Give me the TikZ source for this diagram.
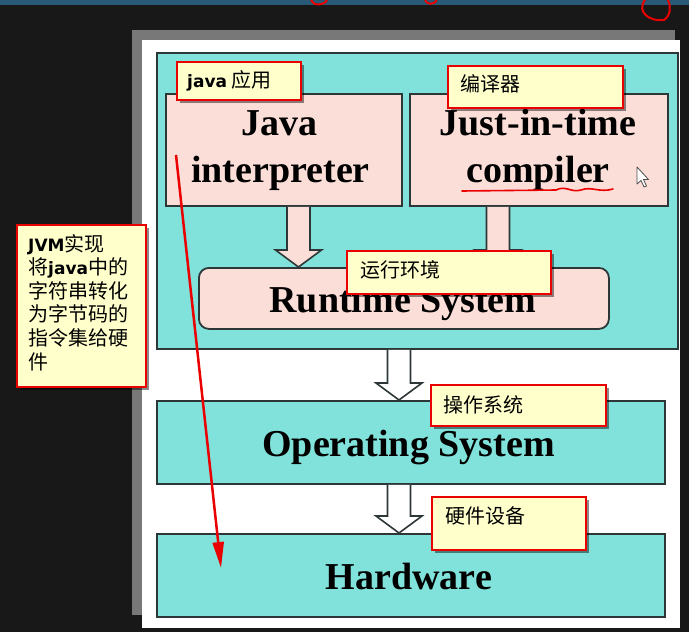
\documentclass[tikz,border=0pt]{standalone}
\usepackage{fontspec}
\setmainfont{Liberation Serif}
\newfontfamily\cjk{Noto Sans CJK SC}
\newfontfamily\latb{DejaVu Sans}
\usetikzlibrary{shadows,arrows.meta,calc}
\definecolor{tealbox}{RGB}{128,226,218}
\definecolor{pinkbox}{RGB}{252,222,216}
\definecolor{notefill}{RGB}{255,255,204}
\definecolor{edgecol}{RGB}{45,55,55}
\definecolor{bgcol}{RGB}{24,24,24}
\definecolor{framecol}{RGB}{120,120,120}
\definecolor{topblue}{RGB}{40,90,120}
\definecolor{redline}{RGB}{235,0,0}
\newcommand\blockarr[4]{%
  \draw[blockedge, fill=#4]
    ({#3-11.5},0 |- #1.south) --
    ([yshift=17pt]{#3-11.5},0 |- #2.north) --
    ([yshift=17pt]{#3-23},0 |- #2.north) --
    (#3,0 |- #2.north) --
    ([yshift=17pt]{#3+23},0 |- #2.north) --
    ([yshift=17pt]{#3+11.5},0 |- #2.north) --
    ({#3+11.5},0 |- #1.south);}
\begin{document}
\begin{tikzpicture}[x=1pt,y=-1pt,
  box/.style={draw=edgecol,line width=1.8pt,anchor=north west,inner sep=0pt},
  blockedge/.style={draw=edgecol,line width=1.6pt,line join=miter},
  title/.style={font=\fontsize{38}{45}\selectfont\bfseries,text=black,anchor=base,inner sep=0pt},
  note/.style={draw=redline,line width=2pt,fill=notefill,anchor=north west,inner sep=0pt,
    drop shadow={shadow xshift=2.5pt,shadow yshift=-2.5pt,opacity=0.45,fill=black}},
  notetext/.style={font=\cjk\fontsize{20}{23.6}\selectfont,anchor=base west,inner sep=0pt,text=black},
  ]
\useasboundingbox (0,0) rectangle (689,632);
% background
\fill[bgcol] (0,0) rectangle (689,632);
\fill[topblue] (0,0) rectangle (689,5);
\draw[redline,line width=2pt] (645,0) .. controls (636,12) and (650,22) .. (664,20) .. controls (671,15) and (671,6) .. (668,0);
\draw[redline,line width=2pt] (311,0) .. controls (313,6) and (324,6) .. (327,0);
\draw[redline,line width=2pt] (425,0) .. controls (427,5) and (434,5) .. (437,0);
\fill[framecol] (132,30) rectangle (675,615);
\fill[white] (142,40) rectangle (680,628);

% main boxes
\node[box,fill=tealbox,minimum width=521pt,minimum height=296pt] (jvm) at (156,52) {};
\node[box,fill=pinkbox,minimum width=236pt,minimum height=112pt] (interp) at (165,93) {};
\node[box,fill=pinkbox,minimum width=258pt,minimum height=112pt] (jit) at (409,93) {};
\node[box,fill=pinkbox,rounded corners=10pt,minimum width=410pt,minimum height=61pt] (rts) at (198,267) {};
\node[box,fill=tealbox,minimum width=508pt,minimum height=83pt] (os) at (156,400) {};
\node[box,fill=tealbox,minimum width=508pt,minimum height=83pt] (hw) at (156,533) {};

% block arrows
\blockarr{interp}{rts}{298.5}{pinkbox}
\blockarr{jit}{rts}{498}{pinkbox}
\blockarr{jvm}{os}{399}{white}
\blockarr{os}{hw}{399}{white}

% box texts
\node[title] (tjava) at (279,135) {Java};
\node[title] (tinterp) at (280.5,182) {interpreter};
\node[title] (tjust) at (538,135) {Just-in-time};
\node[title] (tcomp) at (538,182) {compiler};
\node[title] (trts) at (403,312) {Runtime System};
\node[title] (tos) at (408.5,456) {Operating System};
\node[title] (thw) at (409,589) {Hardware};

% red underline and cursor
\draw[redline,line width=1.6pt,line cap=round] (462,191) -- (556,190) .. controls (566,185) and (571,193) .. (581,190) .. controls (591,186) and (600,193) .. (613,189);
\draw[gray!60!black,fill=white,line width=0.8pt,line join=round] (637,167) -- (637,184) -- (641,180.5) -- (644,187) -- (646.5,186) -- (643.5,179.5) -- (648.5,179.5) -- cycle;

% callouts
\node[note,minimum width=124pt,minimum height=38pt] (c1) at (176,61) {};
\node[notetext] (c1t) at (187,87) {{\latb\bfseries\fontsize{17}{20}\selectfont java} 应用};
\node[note,minimum width=175pt,minimum height=42pt] (c2) at (447,65) {};
\node[notetext] (c2t) at (460,91) {编译器};
\node[note,minimum width=204pt,minimum height=43pt] (c3) at (346,250) {};
\node[notetext] (c3t) at (360,277) {运行环境};
\node[note,minimum width=175pt,minimum height=41pt] (c4) at (430,384) {};
\node[notetext] (c4t) at (443,412) {操作系统};
\node[note,minimum width=154pt,minimum height=53pt] (c5) at (431,496) {};
\node[notetext] (c5t) at (445,523) {硬件设备};
\node[note,minimum width=129pt,minimum height=162pt] (c6) at (16,224) {};
\node[notetext] (c6t) at (28,251) {\parbox[t]{115pt}{\raggedright
  {\latb\bfseries\fontsize{17}{20}\selectfont JVM}实现\\
  将{\latb\bfseries\fontsize{17}{20}\selectfont java}中的\\
  字符串转化\\
  为字节码的\\
  指令集给硬\\
  件}};

% red annotation arrow
\coordinate (rs) at (176,155);
\coordinate (re) at (221,568);
\draw[redline,line width=2.5pt,-{Triangle[length=26pt,width=11pt]}] (rs) -- (re);
\end{tikzpicture}
\end{document}
